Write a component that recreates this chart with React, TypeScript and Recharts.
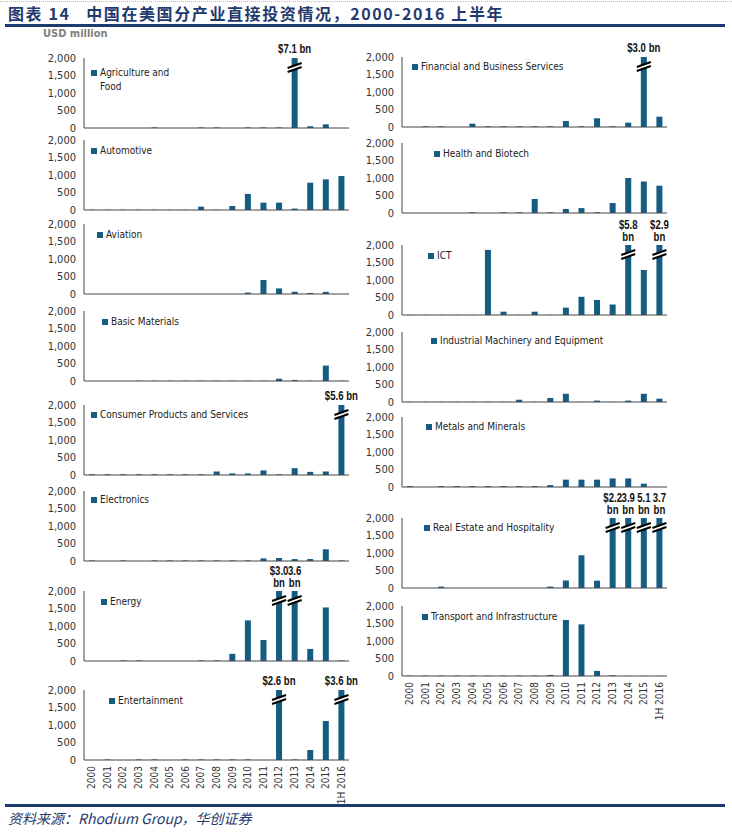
import React from "react";
import { BarChart, Bar, XAxis, YAxis, Legend } from "recharts";

// years on the x axis
const years = [
  "2000", "2001", "2002", "2003", "2004", "2005", "2006", "2007", "2008",
  "2009", "2010", "2011", "2012", "2013", "2014", "2015", "1H 2016",
];

// USD million (values above 2,000 are drawn with a break)
const agricultureFood = [0, 0, 0, 0, 15, 0, 0, 15, 15, 0, 15, 15, 15, 7100, 50, 105, 0];
const automotive = [8, 8, 8, 8, 8, 8, 8, 95, 8, 115, 460, 210, 210, 40, 780, 875, 970];
const aviation = [0, 0, 0, 0, 0, 0, 0, 0, 0, 0, 40, 400, 160, 65, 30, 60, 0];
const basicMaterials = [0, 0, 0, 8, 8, 8, 8, 8, 8, 8, 8, 8, 65, 30, 8, 440, 8];
const consumerProducts = [20, 20, 20, 20, 20, 20, 20, 20, 100, 45, 45, 130, 20, 195, 90, 100, 5600];
const electronics = [15, 0, 15, 0, 15, 15, 15, 15, 15, 15, 15, 75, 85, 55, 55, 335, 15];
const energy = [0, 0, 15, 15, 0, 0, 0, 15, 15, 205, 1160, 600, 3000, 3600, 345, 1530, 15];
const entertainment = [0, 15, 0, 15, 15, 0, 15, 15, 15, 15, 15, 0, 2600, 15, 285, 1115, 3600];
const financialServices = [0, 20, 20, 0, 95, 20, 20, 20, 20, 20, 170, 20, 250, 20, 125, 3000, 295];
const healthBiotech = [0, 0, 0, 0, 20, 0, 20, 20, 400, 20, 115, 140, 20, 285, 1000, 900, 780];
const ict = [5, 5, 5, 5, 5, 1860, 95, 5, 95, 5, 210, 520, 430, 300, 5800, 1285, 2900];
const industrialMachinery = [5, 5, 5, 5, 5, 5, 5, 65, 5, 115, 235, 5, 40, 5, 40, 235, 95];
const metalsMinerals = [25, 0, 25, 25, 25, 25, 25, 25, 25, 55, 210, 210, 210, 245, 245, 95, 0];
const realEstate = [0, 0, 40, 0, 0, 0, 0, 0, 0, 40, 215, 935, 210, 2200, 3900, 5100, 3700];
const transport = [10, 10, 10, 10, 10, 10, 10, 10, 10, 30, 1600, 1475, 145, 20, 5, 5, 5];

const yTicks = [0, 500, 1000, 1500, 2000];

const CAP = 2000;
const BAR = "#145C82";
const NAVY = "#1F3A6E";
const FONT =
  '"Liberation Sans Narrow", "Arial Narrow", "DejaVu Sans Condensed", "Liberation Sans", Arial, sans-serif';
const LABEL_FONT = '"Liberation Sans", Arial, sans-serif';
const TOP = 30; // room above each plot for the break labels
const PLOT_H = 70;
const X_H = 46;
const BOTTOM = 8; // room for the "0" tick label
const CHART_W = 384;
const RIGHT = 35;

type Panel = {
  name: string;
  values: number[];
  x: number; // chart left
  plotTop: number; // y of the 2,000 line
  lx: number; // legend square left (page coords)
  ly: number; // legend first line centre (page coords)
  lw?: number;
  stacked?: boolean;
  dollarFirstOnly?: boolean;
  axis?: boolean;
};

const panels: Panel[] = [
  { name: "Agriculture and Food", values: agricultureFood, x: 0, plotTop: 58, lx: 91, ly: 73, lw: 80 },
  { name: "Automotive", values: automotive, x: 0, plotTop: 140, lx: 91, ly: 151 },
  { name: "Aviation", values: aviation, x: 0, plotTop: 224, lx: 97, ly: 235 },
  { name: "Basic Materials", values: basicMaterials, x: 0, plotTop: 311, lx: 102, ly: 322 },
  { name: "Consumer Products and Services", values: consumerProducts, x: 0, plotTop: 405, lx: 91, ly: 415 },
  { name: "Electronics", values: electronics, x: 0, plotTop: 491, lx: 91, ly: 500 },
  { name: "Energy", values: energy, x: 0, plotTop: 591, lx: 101, ly: 602, stacked: true, dollarFirstOnly: true },
  { name: "Entertainment", values: entertainment, x: 0, plotTop: 690, lx: 109, ly: 701, axis: true },
  { name: "Financial and Business Services", values: financialServices, x: 318, plotTop: 57, lx: 412, ly: 67 },
  { name: "Health and Biotech", values: healthBiotech, x: 318, plotTop: 143, lx: 434, ly: 154 },
  { name: "ICT", values: ict, x: 318, plotTop: 245, lx: 428, ly: 256, stacked: true },
  { name: "Industrial Machinery and Equipment", values: industrialMachinery, x: 318, plotTop: 332, lx: 431, ly: 341 },
  { name: "Metals and Minerals", values: metalsMinerals, x: 318, plotTop: 417, lx: 426, ly: 427 },
  { name: "Real Estate and Hospitality", values: realEstate, x: 318, plotTop: 518, lx: 424, ly: 528, stacked: true, dollarFirstOnly: true },
  { name: "Transport and Infrastructure", values: transport, x: 318, plotTop: 606, lx: 422, ly: 617, axis: true },
];

function BrokenBar(props: any) {
  const { x, y, width, height, payload, fill, panel, index } = props;
  const v = payload.value;
  if (v <= CAP) {
    if (!height || height <= 0) return null;
    return <rect x={x} y={y} width={width} height={height} fill={fill} />;
  }
  // "$" only on the first broken bar in some panels
  const firstBroken = panel.values.findIndex((d: number) => d > CAP);
  const dollar = !panel.dollarFirstOnly || index === firstBroken ? "$" : "";
  const num = dollar + (v / 1000).toFixed(1);
  const cx = x + width / 2;
  const yc = y + 9;
  const l = x - 4;
  const r = x + width + 4;
  return (
    <g>
      <rect x={x} y={y} width={width} height={height} fill={fill} />
      <polygon points={`${l},${yc + 1} ${r},${yc - 4} ${r},${yc} ${l},${yc + 5}`} fill="#fff" />
      <line x1={l} y1={yc + 1} x2={r} y2={yc - 4} stroke="#000" strokeWidth={2} />
      <line x1={l} y1={yc + 5} x2={r} y2={yc} stroke="#000" strokeWidth={2} />
      <g transform={`translate(${cx} 0) scale(0.8 1)`}>
        {panel.stacked ? (
          <text textAnchor="middle" fontFamily={LABEL_FONT} fontSize={12} fontWeight="bold" fill="#111">
            <tspan x={0} y={y - 16}>{num}</tspan>
            <tspan x={0} y={y - 4}>bn</tspan>
          </text>
        ) : (
          <text x={0} y={y - 5} textAnchor="middle" fontFamily={LABEL_FONT} fontSize={12} fontWeight="bold" fill="#111">
            {num} bn
          </text>
        )}
      </g>
    </g>
  );
}

const YearTick = (props: any) => {
  const { x, y, payload } = props;
  return (
    <text
      x={x}
      y={y - 2}
      transform={`rotate(-90 ${x} ${y - 2})`}
      textAnchor="end"
      dominantBaseline="central"
      fontFamily={FONT}
      fontSize={10}
      fill="#333"
    >
      {payload.value}
    </text>
  );
};

function PanelChart({ p }: { p: Panel }) {
  const data = years.map((year, i) => ({
    year,
    value: p.values[i],
    shown: Math.min(p.values[i], CAP),
  }));
  const xh = p.axis ? X_H : 1;
  const bottom = p.axis ? 0 : BOTTOM;
  const chartTop = p.plotTop - TOP;
  return (
    <div style={{ position: "absolute", left: p.x, top: chartTop }}>
      <BarChart
        width={CHART_W}
        height={TOP + PLOT_H + xh + bottom}
        data={data}
        margin={{ top: TOP, right: RIGHT, bottom, left: 0 }}
        barSize={6}
      >
        <XAxis
          dataKey="year"
          interval={0}
          tickLine={false}
          axisLine={{ stroke: "#444" }}
          height={xh}
          tick={p.axis ? <YearTick /> : false}
        />
        <YAxis
          width={84}
          domain={[0, CAP]}
          ticks={yTicks}
          interval={0}
          tickLine={false}
          axisLine={{ stroke: "#444" }}
          tick={{ fontSize: 11, fill: "#333", fontFamily: FONT }}
          tickFormatter={(v: number) => v.toLocaleString("en-US")}
        />
        <Legend
          layout="vertical"
          align="center"
          verticalAlign="middle"
          wrapperStyle={{ left: p.lx - p.x, top: p.ly - 7 - chartTop, width: "auto" }}
          content={() => (
            <div
              style={{
                display: "flex",
                alignItems: "flex-start",
                fontFamily: FONT,
                fontSize: 10,
                color: "#222",
                lineHeight: "14px",
                width: p.lw,
                whiteSpace: p.lw ? "normal" : "nowrap",
              }}
            >
              <span style={{ width: 6, height: 6, background: BAR, marginTop: 4, marginRight: 3, flex: "none" }} />
              <span>{p.name}</span>
            </div>
          )}
        />
        <Bar
          dataKey="shown"
          fill={BAR}
          isAnimationActive={false}
          shape={(props: any) => <BrokenBar {...props} panel={p} />}
        />
      </BarChart>
    </div>
  );
}

export default function App() {
  return (
    <div style={{ position: "relative", width: 732, height: 832, background: "#fff", overflow: "hidden" }}>
      <style>{`body{margin:0}`}</style>
      <div style={{ position: "absolute", left: 0, right: 0, top: 1, borderTop: "1px dotted #bbb" }} />
      <div
        style={{
          position: "absolute",
          left: 8,
          top: 2,
          fontFamily: '"Noto Sans CJK SC", sans-serif',
          fontWeight: 700,
          fontSize: 16,
          lineHeight: "22px",
          color: NAVY,
          whiteSpace: "nowrap",
          letterSpacing: 1.6,
        }}
      >
        图表 14&nbsp;&nbsp;&nbsp;中国在美国分产业直接投资情况，2000-2016 上半年
      </div>
      <div style={{ position: "absolute", left: 5, width: 720, top: 24, height: 3, background: NAVY }} />
      <div
        style={{
          position: "absolute",
          left: 43,
          top: 27,
          fontFamily: FONT,
          fontWeight: "bold",
          fontSize: 11,
          color: "#808080",
        }}
      >
        USD million
      </div>
      {panels.map((p) => (
        <PanelChart key={p.name} p={p} />
      ))}
      <div style={{ position: "absolute", left: 5, width: 720, top: 804, height: 3, background: NAVY }} />
      <div
        style={{
          position: "absolute",
          left: 8,
          top: 808,
          fontFamily: '"Noto Sans CJK SC", serif',
          fontStyle: "italic",
          fontSize: 14,
          lineHeight: "20px",
          color: NAVY,
          whiteSpace: "nowrap",
        }}
      >
        资料来源：Rhodium Group，华创证券
      </div>
    </div>
  );
}
